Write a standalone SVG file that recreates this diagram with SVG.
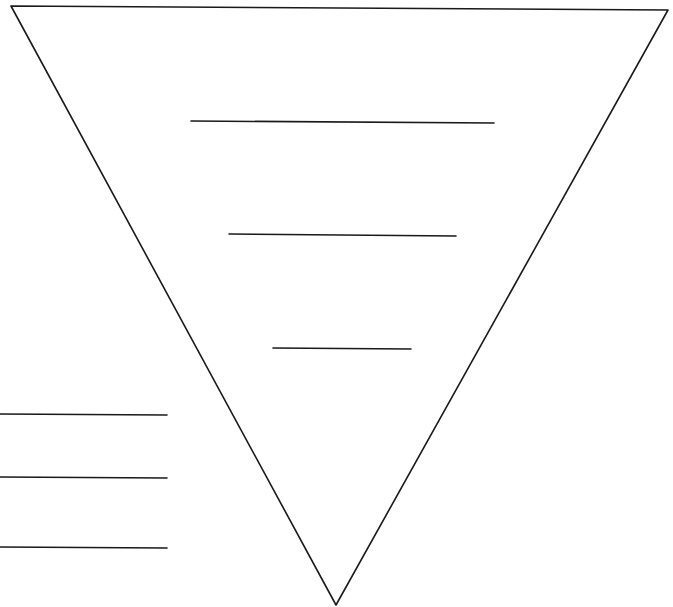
<svg xmlns="http://www.w3.org/2000/svg" width="673" height="607" viewBox="0 0 673 607">
<style>
.s{fill:none;stroke:#1a1a1a;stroke-width:1.6;stroke-linecap:round;stroke-linejoin:round}
</style>
<rect width="673" height="607" fill="#ffffff"/>
<g id="triangle">
<polygon class="s" points="11,6 668,10 336,605"/>
</g>
<g id="inner-lines">
<line class="s" x1="191" y1="121" x2="494" y2="123"/>
<line class="s" x1="229" y1="234" x2="456" y2="236"/>
<line class="s" x1="273" y1="348" x2="411" y2="349"/>
</g>
<g id="left-lines">
<line class="s" x1="0" y1="414" x2="167" y2="415"/>
<line class="s" x1="0" y1="477" x2="167" y2="478"/>
<line class="s" x1="0" y1="547" x2="167" y2="548"/>
</g>
</svg>
